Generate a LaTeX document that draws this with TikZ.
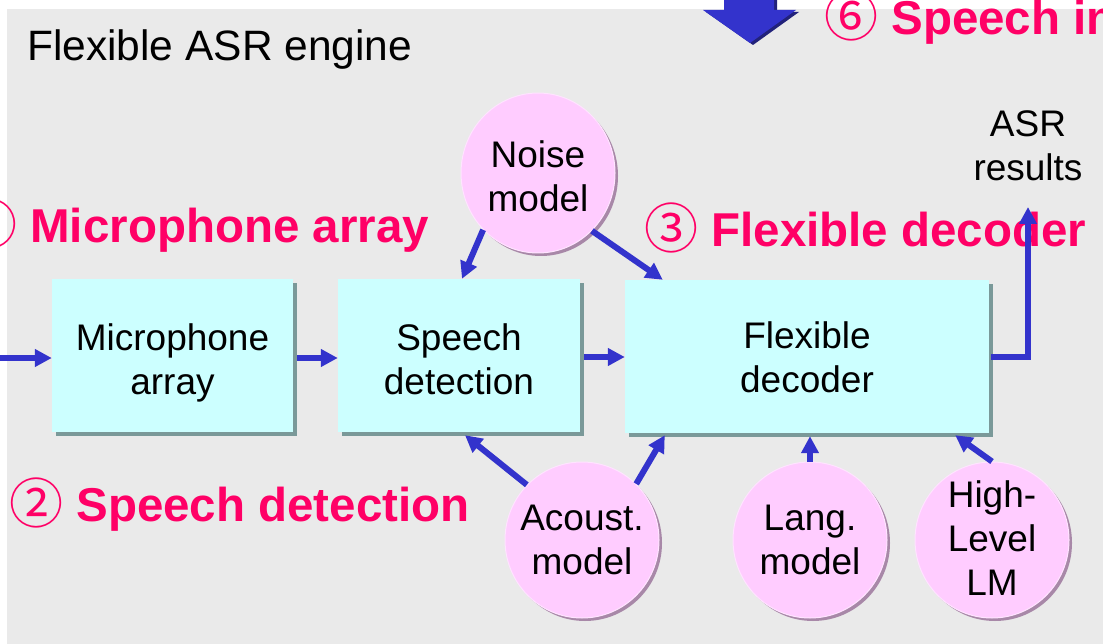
\documentclass[tikz,border=0pt]{standalone}
\usepackage{fontspec}
\setmainfont{Liberation Sans}
\newfontfamily\cjkfont{Noto Sans CJK JP}
\usetikzlibrary{arrows.meta,shadows,shapes.geometric,calc}
\definecolor{panelgray}{HTML}{EAEAEA}
\definecolor{boxcyan}{HTML}{CCFFFF}
\definecolor{boxshadow}{HTML}{7A9999}
\definecolor{ellpink}{HTML}{FFCCFF}
\definecolor{ellshadow}{HTML}{A888A8}
\definecolor{ellrim}{HTML}{FFE4FF}
\definecolor{arrowblue}{HTML}{3333CC}
\definecolor{arrowdark}{HTML}{22227A}
\definecolor{hotred}{HTML}{FF0066}
\newcommand{\topstrut}{\rule{0pt}{30pt}}
\newcommand{\botstrut}{\rule[-8pt]{0pt}{8pt}}
\newcommand{\cnum}[1]{{\cjkfont\mdseries\fontsize{54}{54}\selectfont\raisebox{-2pt}{#1}}}
\begin{document}
\begin{tikzpicture}[x=1pt,y=-1pt,
  blockbox/.style={rectangle, fill=boxcyan, draw=none, minimum height=153pt, inner sep=0pt,
    drop shadow={shadow xshift=4pt, shadow yshift=-4pt, fill=boxshadow, opacity=1}},
  modelell/.style={ellipse, fill=ellpink, draw=ellrim, line width=1pt, minimum width=154pt,
    minimum height=156pt, inner sep=0pt,
    drop shadow={shadow xshift=3pt, shadow yshift=-3pt, fill=ellshadow, opacity=1}},
  lbl/.style={font=\fontsize{37}{44}\selectfont, align=center, inner sep=0pt},
  redlbl/.style={font=\fontsize{47.5}{50}\selectfont\bfseries, text=hotred, inner sep=0pt, anchor=base west},
  flow/.style={draw=arrowblue, line width=6pt, -{Triangle[length=17pt,width=17pt]}},
]
\useasboundingbox (0,0) rectangle (1103,644);
\clip (0,0) rectangle (1103,644);
\fill[white] (0,0) rectangle (1103,644);
\fill[panelgray] (7,9) rectangle (1110,650);

% big down arrow (top)
\fill[arrowdark] (727,-5) -- (777,-5) -- (777,12) -- (799,12) -- (753,45) -- (706,12) -- (727,12) -- cycle;
\fill[arrowblue] (724,-5) -- (774,-5) -- (774,10) -- (796,10) -- (750,43) -- (703,10) -- (724,10) -- cycle;

% title
\node[font=\fontsize{42.5}{50}\selectfont, anchor=base west, inner sep=0pt] (title) at (27,61) {Flexible ASR engine};

% red labels
\node[redlbl] (lab1) at (-37,243) {\cnum{①} Microphone array};
\node[redlbl] (lab2) at (9,521) {\cnum{②} Speech detection};
\node[redlbl] (lab3) at (644,247) {\cnum{③} Flexible decoder};
\node[redlbl] (lab6) at (824,35) {\cnum{⑥} Speech in};

% blocks
\node[blockbox, minimum width=241pt,
  label={[lbl, yshift=-5.5pt]center:\topstrut Microphone\\array\botstrut}] (mic) at (172.5,355.5) {};
\node[blockbox, minimum width=242pt,
  label={[lbl, yshift=-5.5pt]center:\topstrut Speech\\detection\botstrut}] (det) at (459,355.5) {};
\node[blockbox, minimum width=364pt,
  label={[lbl, yshift=-2.5pt]center:\topstrut Flexible\\decoder\botstrut}] (dec) at (807,356.5) {};

% models
\node[modelell, minimum height=160pt,
  label={[lbl, yshift=-6pt]center:\topstrut Noise\\model\botstrut}] (noise) at (538,173) {};
\node[modelell,
  label={[lbl, yshift=-1pt]center:\topstrut Acoust.\\model\botstrut}] (ac) at (582,540) {};
\node[modelell,
  label={[lbl, yshift=-1pt]center:\topstrut Lang.\\model\botstrut}] (lang) at (810,540) {};
\node[modelell,
  label={[lbl, yshift=0pt]center:\topstrut High-\\Level\\LM\botstrut}] (hl) at (992,540) {};

% output text
\node[lbl] (asr) at (1028,148) {\topstrut ASR\\results\botstrut};
\coordinate (outtip) at (1028,207);
\coordinate (in) at (-2,358);

% connectors
\draw[flow] (in) -- (in -| mic.west);
\draw[flow] ($(mic.east |- in)+(4,0)$) -- (in -| det.west);
\draw[flow] ($(det.east |- in)+(4,-1)$) -- ($(in -| dec.west)+(0,-1)$);
\draw[flow] ($(dec.east |- in)+(2,-1)$) -| (outtip);
\draw[flow] (noise.226) -- ([xshift=3pt]det.north);
\draw[flow] (noise.313) -- ([xshift=38pt]dec.north west);
\draw[flow] (ac.135) -- ([xshift=6pt,yshift=-3pt]det.south);
\draw[flow] (ac.46) -- ([xshift=40pt,yshift=-2pt]dec.south west);
\draw[flow] (lang.north) -- ($(lang.north |- dec.south)+(0,3)$);
\draw[flow] (hl.north) -- ([xshift=-34pt,yshift=-2pt]dec.south east);
\end{tikzpicture}
\end{document}
